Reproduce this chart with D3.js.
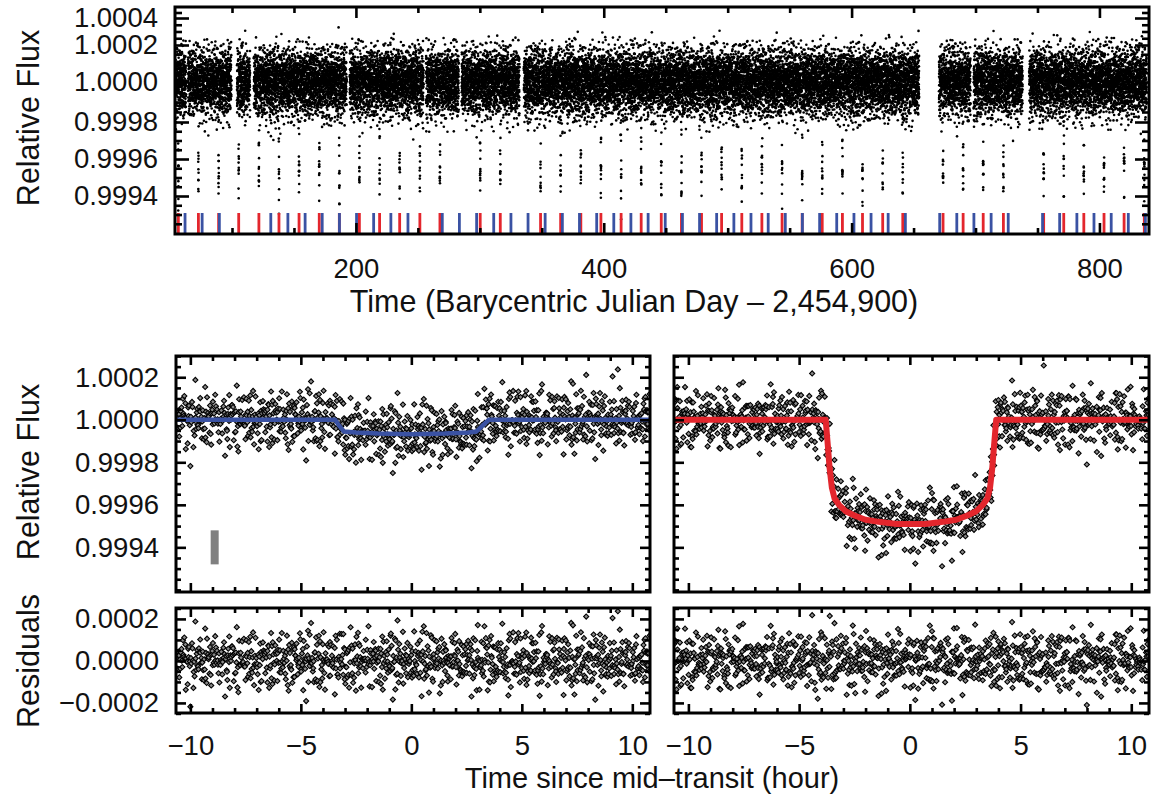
<!DOCTYPE html>
<html>
<head>
<meta charset="utf-8">
<script src="https://cdn.jsdelivr.net/npm/d3@7"></script>
<style>
body { margin: 0; background: #fff; }
text { font-family: "Liberation Sans", Arial, sans-serif; fill: #111; }
</style>
</head>
<body>
<svg id="fig" width="1155" height="795"></svg>
<script>
// ---- values ----
// observed stretches of the light curve (days, BJD - 2,454,900)
const segments = [[53, 63], [64.5, 99.5], [104, 114.6], [117.6, 192.5], [195, 254.6], [256.6, 283],
  [285.3, 332], [335.5, 654.5], [670.5, 696], [698.5, 738], [743.3, 838]];
// mid-transit times marked along the bottom of the top panel
const redTransits = [56.7, 72.9, 89.2, 105.4, 121.7, 137.9, 154.1, 170.4, 186.6, 202.8, 219.1, 235.3,
  251.6, 267.8, 300.3, 316.5, 349.0, 365.2, 381.5, 397.7, 414.0, 430.2, 446.4, 462.7, 478.9, 495.1,
  511.4, 527.6, 543.9, 560.1, 576.3, 592.6, 608.8, 625.1, 641.3, 673.8, 690.0, 706.2, 722.5, 755.0,
  771.2, 787.4, 803.7, 819.9, 836.2];
const blueTransits = [62.1, 75.9, 89.8, 131.3, 145.1, 159.0, 172.8, 186.7, 200.5, 214.3, 228.2, 242.0,
  269.7, 283.5, 297.4, 311.2, 325.1, 338.9, 352.7, 366.6, 380.4, 394.3, 408.1, 421.9, 435.8, 449.6,
  463.5, 477.3, 491.1, 505.0, 518.8, 532.7, 546.5, 560.3, 574.2, 588.0, 601.9, 615.7, 629.5, 643.4,
  671.1, 684.9, 698.7, 712.6, 726.4, 754.1, 767.9, 781.8, 795.6, 809.5, 823.3, 837.1];

// transit models (hours from mid-transit, relative flux)
const blueHours = [-10.65, -3.45, -3.25, -3.05, -2.5, -1.5, 0.0, 1.5, 2.6, 2.95, 3.2, 3.5, 10.8];
const blueFlux = [1.0, 1.0, 0.99997, 0.999945, 0.99994, 0.999935, 0.999932, 0.999935, 0.99994, 0.999945, 0.99997, 1.0, 1.0];
const redHours = [-10.65, -3.80, -3.72, -3.62, -3.52, -3.40, -3.20, -2.90, -2.50, -2.00, -1.40, -0.60, 0.05,
  0.70, 1.50, 2.10, 2.60, 3.00, 3.30, 3.50, 3.62, 3.72, 3.82, 3.90, 10.8];
const redFlux = [1.0, 1.0, 0.99990, 0.99977, 0.99968, 0.99963, 0.99960, 0.99957, 0.99955, 0.99953, 0.99952,
  0.99951, 0.99951, 0.99951, 0.99952, 0.99953, 0.99955, 0.99957, 0.99960, 0.99963, 0.99968, 0.99977,
  0.99990, 1.0, 1.0];

// photometric scatter, hand-typed deviates (unit sigma)
const nA = [0.3, -1.2, 0.8, -0.4, 1.7, -0.9, 0.1, -2.1, 0.6, 1.1, -0.2, -1.5, 0.9, 0.0, -0.7, 2.4, -0.3, 0.5,
  -1.0, 1.3, -0.6, 0.2, -1.8, 0.7, 1.5, -0.1, -0.8, 0.4, -2.6, 1.0, 0.6, -0.5, 1.9, -1.3, 0.1, -0.4, 0.8,
  -0.9, 2.9, -0.2, -1.1, 0.3, 1.2, -0.6, 0.0, -1.6, 0.5, 0.9, -0.3, 1.4, -2.2, 0.2, -0.7, 1.1, -0.1, 0.6,
  -1.4, 0.4, -0.8, 1.6, -0.5];
const nB = [-0.6, 1.4, 0.2, -1.9, 0.5, -0.3, 1.0, -0.8, 2.2, -0.1, -1.3, 0.7, 0.4, -0.5, 1.8, -2.4, 0.0, 0.9,
  -0.7, 1.2, -1.1, 0.3, 0.6, -1.6, 2.7, -0.2, 0.8, -0.9, 0.1, -1.4, 1.5, -0.4, 0.5, -2.0, 1.1, 0.2, -0.6,
  1.3, -0.3, -1.0, 0.7, 3.1, -0.8, 0.0, -1.2, 0.4, 1.6, -0.5, -0.1, 0.9, -1.7, 0.3, -2.8, 1.0, 0.6, -0.4,
  1.9, -0.9, 0.2, -1.5, 0.8, -0.2, 1.2, -0.7, 0.4, -1.1, 0.5];
const nC = [1.1, -0.4, -1.7, 0.6, 0.2, -0.9, 1.5, -0.1, -2.3, 0.8, 0.3, -0.6, 1.9, -1.2, 0.0, 0.7, -0.3, 2.5,
  -1.4, 0.4, -0.8, 1.2, 0.1, -1.9, 0.9, -0.5, 1.6, -0.2, -1.0, 0.5, 2.1, -0.7, 0.3, -1.5, 1.0, -0.1, -3.0,
  0.6, 1.3, -0.4, 0.2, -1.1, 0.8, -0.6, 1.7, 0.0, -0.9, 0.4, -2.0, 1.4, -0.3, 0.7, -1.3, 0.1, 2.3, -0.8,
  0.5, -0.2, -1.6, 1.1, 0.9, -0.5, 0.3, -1.0, 1.8, -0.7, 0.2, -0.4, 1.0, -1.2, 0.6];

const sigmaTop = 0.000074, sigmaFold = 0.000062;
const cadence = 0.028;        // days between plotted points
const foldCount = 1000;       // points per folded panel
const errHour = -8.9, errLow = 0.99932, errHigh = 0.99948;

// tick values
const dayTicks = [200, 400, 600, 800];
const fluxTicksTop = [0.9994, 0.9996, 0.9998, 1.0000, 1.0002, 1.0004];
const fluxTicksFold = [0.9994, 0.9996, 0.9998, 1.0000, 1.0002];
const residTicks = [-0.0002, 0, 0.0002];
const hourTicks = [-10, -5, 0, 5, 10];

const dayDomain = [54, 840];
const hourDomain = [-10.65, 10.8];

// ---- layout ----
const svg = d3.select("#fig");
const red = "#e3262d", blue = "#3a52a3";
const P = {
  top:   {x0: 175, x1: 1149, y0: 7,   y1: 234},
  foldL: {x0: 176, x1: 650,  y0: 356, y1: 592},
  foldR: {x0: 674, x1: 1149, y0: 356, y1: 592},
  resL:  {x0: 176, x1: 650,  y0: 608, y1: 713},
  resR:  {x0: 674, x1: 1149, y0: 608, y1: 713}
};

function noise(i) {
  return 0.75 * nA[i % nA.length] + 0.55 * nB[(i * 3) % nB.length] + 0.35 * nC[(i * 7) % nC.length];
}

function hoursFrom(list, t) {
  const i = d3.bisectLeft(list, t);
  let best = Infinity;
  [i - 1, i].forEach(j => {
    if (j >= 0 && j < list.length && Math.abs(t - list[j]) < Math.abs(best)) best = t - list[j];
  });
  return best * 24;
}

const redModel = d3.scaleLinear().domain(redHours).range(redFlux).clamp(true);
const blueModel = d3.scaleLinear().domain(blueHours).range(blueFlux).clamp(true);

let clipId = 0;
function panel(p) {
  const g = svg.append("g").attr("transform", `translate(${p.x0},${p.y0})`);
  const id = "clip" + (clipId++);
  g.append("clipPath").attr("id", id).append("rect")
    .attr("width", p.x1 - p.x0).attr("height", p.y1 - p.y0);
  g.plot = g.append("g").attr("clip-path", `url(#${id})`);
  g.w = p.x1 - p.x0;
  g.h = p.y1 - p.y0;
  return g;
}

function addAxes(g, x, y, o) {
  const w = g.w, h = g.h;
  const sets = [
    [() => d3.axisBottom(x), `translate(0,${h})`, o.xMaj, o.xMin, o.xFmt, o.xPad, o.xLen],
    [() => d3.axisTop(x), null, o.xMaj, o.xMin, null, 0, o.xLen],
    [() => d3.axisLeft(y), null, o.yMaj, o.yMin, o.yFmt, o.yPad, o.yLen],
    [() => d3.axisRight(y), `translate(${w},0)`, o.yMaj, o.yMin, null, 0, o.yLen]
  ];
  sets.forEach(([mk, tr, maj, min, fmt, pad, len]) => {
    const a1 = g.append("g").call(mk().tickValues(min).tickSize(-len[1]).tickFormat(""));
    const a2 = g.append("g").call(mk().tickValues(maj).tickSize(-len[0]).tickPadding(pad || 0).tickFormat(fmt || ""));
    [a1, a2].forEach(a => {
      if (tr) a.attr("transform", tr);
      a.select(".domain").remove();
      a.selectAll("line").attr("stroke", "#000").attr("stroke-width", 2.6);
      a.attr("font-size", 27.5).attr("font-family", null);
      a.selectAll("text").attr("fill", "#111");
    });
  });
  g.append("rect").attr("width", w).attr("height", h)
    .attr("fill", "none").attr("stroke", "#000").attr("stroke-width", 3);
}

function minors(lo, hi, step, skip) {
  return d3.range(Math.round(lo / step), Math.round(hi / step) + 1)
    .map(k => +(k * step).toFixed(6))
    .filter(v => !skip.some(s => Math.abs(s - v) < step / 10));
}

// ---- top panel: full light curve ----
const gTop = panel(P.top);
const xDay = d3.scaleLinear().domain(dayDomain).range([0, gTop.w]);
const yTop = d3.scaleLinear()
  .domain([0.999195, 0.9994, 0.9996, 0.9998, 1.0, 1.0002, 1.0004, 1.0005])
  .range([227, 189, 152, 115, 75, 38, 11, 0]);

const topData = [];
segments.forEach(([a, b]) => {
  for (let t = a; t < b; t += cadence) {
    const i = topData.length;
    const f = redModel(hoursFrom(redTransits, t)) + blueModel(hoursFrom(blueTransits, t)) - 1 + sigmaTop * noise(i);
    topData.push({t, f});
  }
});

gTop.plot.append("g").selectAll("circle").data(topData).join("circle")
  .attr("cx", d => xDay(d.t)).attr("cy", d => yTop(d.f)).attr("r", 1.3).attr("fill", "#000");

const markLen = 21;
[[redTransits, red], [blueTransits, blue]].forEach(([list, col]) => {
  gTop.plot.append("g").selectAll("line").data(list).join("line")
    .attr("x1", d => xDay(d)).attr("x2", d => xDay(d))
    .attr("y1", gTop.h - markLen).attr("y2", gTop.h)
    .attr("stroke", col).attr("stroke-width", 2.8);
});

addAxes(gTop, xDay, yTop, {
  xMaj: dayTicks, xMin: minors(100, 800, 50, dayTicks), xFmt: d3.format("d"), xPad: 24, xLen: [11, 6],
  yMaj: fluxTicksTop, yMin: minors(0.99925, 1.00045, 0.00005, fluxTicksTop), yFmt: d3.format(".4f"), yPad: 17, yLen: [14, 7]
});

// ---- folded panels ----
function foldSet(model, offset) {
  const step = (hourDomain[1] - hourDomain[0]) / foldCount;
  return d3.range(foldCount).map(i => {
    const h = hourDomain[0] + (i + 0.5) * step + 0.2 * step * nC[(i * 11 + offset) % nC.length];
    const r = sigmaFold * noise(i + offset);
    return {h, f: model(h) + r, r};
  });
}

const diamond = d3.symbol(d3.symbolSquare, 13);

function drawFold(pf, pr, model, hours, flux, col, offset, withLabels) {
  const gF = panel(pf);
  const x = d3.scaleLinear().domain(hourDomain).range([0, gF.w]);
  const yF = d3.scaleLinear().domain([0.99919, 1.00030]).range([gF.h, 0]);
  const data = foldSet(model, offset);

  gF.plot.append("g").selectAll("path").data(data).join("path")
    .attr("d", diamond)
    .attr("transform", d => `translate(${x(d.h)},${yF(d.f)}) rotate(45)`)
    .attr("fill", "#8a8a8a").attr("stroke", "#000").attr("stroke-width", 1.1);

  gF.plot.append("path").datum(d3.zip(hours, flux))
    .attr("d", d3.line().x(d => x(d[0])).y(d => yF(d[1])))
    .attr("fill", "none").attr("stroke", col).attr("stroke-width", col === red ? 6 : 4.5)
    .attr("stroke-linejoin", "round");

  if (withLabels) {
    gF.plot.append("rect")
      .attr("x", x(errHour) - 4).attr("width", 8)
      .attr("y", yF(errHigh)).attr("height", yF(errLow) - yF(errHigh))
      .attr("fill", "#808080");
  }

  addAxes(gF, x, yF, {
    xMaj: hourTicks, xMin: minors(-10, 10, 1, hourTicks), xFmt: null, xPad: 0, xLen: [9, 5],
    yMaj: fluxTicksFold, yMin: minors(0.99920, 1.00030, 0.00005, fluxTicksFold),
    yFmt: withLabels ? d3.format(".4f") : null, yPad: 17, yLen: [10, 5]
  });

  const gR = panel(pr);
  const yR = d3.scaleLinear().domain([-0.000248, 0.000252]).range([gR.h, 0]);
  gR.plot.append("g").selectAll("path").data(data).join("path")
    .attr("d", diamond)
    .attr("transform", d => `translate(${x(d.h)},${yR(d.r)}) rotate(45)`)
    .attr("fill", "#8a8a8a").attr("stroke", "#000").attr("stroke-width", 1.1);

  addAxes(gR, x, yR, {
    xMaj: hourTicks, xMin: minors(-10, 10, 1, hourTicks), xFmt: d3.format("d"), xPad: 22, xLen: [9, 5],
    yMaj: residTicks, yMin: minors(-0.00025, 0.00025, 0.00005, residTicks),
    yFmt: withLabels ? d3.format(".4f") : null, yPad: 17, yLen: [10, 5]
  });
}

drawFold(P.foldL, P.resL, blueModel, blueHours, blueFlux, blue, 5000, true);
drawFold(P.foldR, P.resR, redModel, redHours, redFlux, red, 20000, false);

// ---- titles ----
function title(txt, x, y, rot, size) {
  svg.append("text").attr("x", x).attr("y", y)
    .attr("transform", rot ? `rotate(-90,${x},${y})` : null)
    .attr("text-anchor", "middle").attr("font-size", size || 30.5).text(txt);
}
title("Time (Barycentric Julian Day \u2013 2,454,900)", 634, 312);
title("Time since mid\u2013transit (hour)", 652, 788, false, 29);
title("Relative Flux", 39, 118, true);
title("Relative Flux", 39, 472, true);
title("Residuals", 39, 661, true);
</script>
</body>
</html>
